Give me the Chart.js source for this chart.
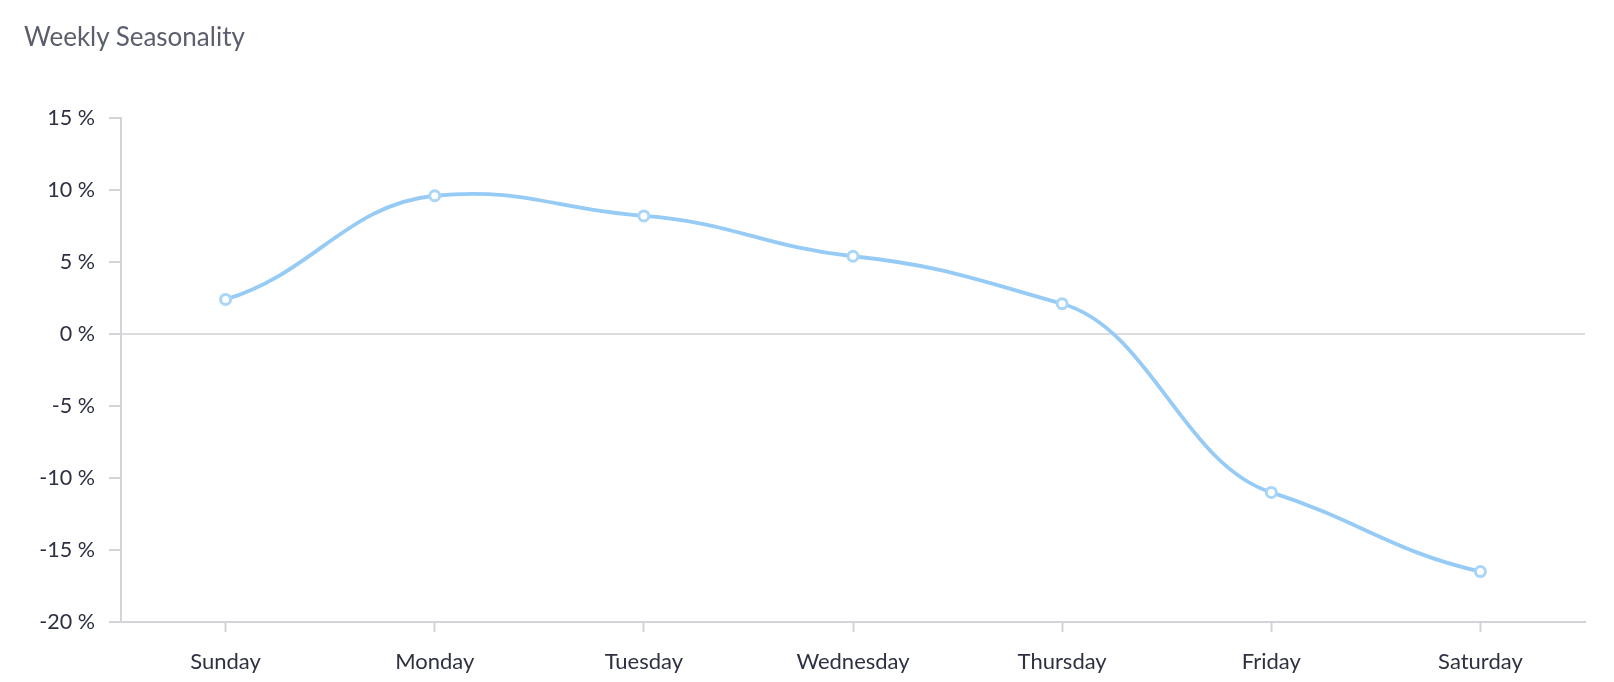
<!DOCTYPE html>
<html>
<head>
<meta charset="utf-8">
<script src="https://cdn.jsdelivr.net/npm/chart.js@4.4.1/dist/chart.umd.min.js"></script>
<style>
  html, body { margin: 0; padding: 0; background: #fff; }
  #wrap { position: relative; width: 1614px; height: 682px; }
  #title {
    position: absolute; left: 24px; top: 20px;
    font-family: Lato, "Noto Sans", sans-serif; font-size: 26px;
    color: #5b5f6d;
  }
</style>
</head>
<body>
<div id="wrap">
  <div id="title">Weekly Seasonality</div>
  <canvas id="seasonChart" width="1614" height="682"></canvas>
</div>
<script>
const days = ["Sunday", "Monday", "Tuesday", "Wednesday", "Thursday", "Friday", "Saturday"];
const seasonality = [2.4, 9.6, 8.2, 5.4, 2.1, -11.0, -16.5];
const yTicks = [15, 10, 5, 0, -5, -10, -15, -20];

const lineColor = "#96cbf5";
const axisColor = "#d3d3d9";

// softer spline: flatter tangents at the points, longer horizontal handles
const softSpline = {
  id: "softSpline",
  beforeDatasetDraw(chart, args) {
    const meta = args.meta;
    const line = meta.dataset;
    line.updateControlPoints(chart.chartArea, meta.iScale.axis);
    const pts = line.points;
    const last = pts.length - 1;
    pts.forEach((p, i) => {
      const prev = pts[Math.max(i - 1, 0)];
      const next = pts[Math.min(i + 1, last)];
      let slope = (next.y - prev.y) / (next.x - prev.x);
      slope *= (i > 0 && i < last) ? 0.5 : 0.6;
      if (i > 0) {
        const dx = (p.x - prev.x) * 0.42;
        p.cp1x = p.x - dx;
        p.cp1y = p.y - slope * dx;
      }
      if (i < last) {
        const dx = (next.x - p.x) * 0.42;
        p.cp2x = p.x + dx;
        p.cp2y = p.y + slope * dx;
      }
    });
  }
};

new Chart(document.getElementById("seasonChart"), {
  type: "line",
  data: {
    labels: days,
    datasets: [{
      data: seasonality,
      borderColor: lineColor,
      borderWidth: 3.8,
      backgroundColor: "#ffffff",
      pointBackgroundColor: "#ffffff",
      pointBorderColor: "#a9d5f7",
      pointBorderWidth: 3,
      pointRadius: 5,
      tension: 0.4,
      fill: false
    }]
  },
  options: {
    responsive: false,
    animation: false,
    layout: { padding: { top: 118, right: 29, left: 0, bottom: 0 } },
    plugins: { legend: { display: false }, tooltip: { enabled: false } },
    scales: {
      x: {
        offset: true,
        border: { color: axisColor, width: 2 },
        grid: { drawOnChartArea: false, tickLength: 10, tickColor: axisColor, tickWidth: 2 },
        ticks: { color: "#2e3142", padding: 17, font: { family: "Lato", size: 22 } },
        afterFit: s => { s.height = 60; }
      },
      y: {
        min: Math.min(...yTicks),
        max: Math.max(...yTicks),
        border: { color: axisColor, width: 2 },
        grid: {
          color: c => c.tick && c.tick.value === 0 ? "#dcdce0" : "rgba(0,0,0,0)",
          lineWidth: 2,
          tickLength: 12,
          tickColor: axisColor,
          tickWidth: 2
        },
        ticks: {
          stepSize: 5,
          color: "#2e3142",
          padding: 14,
          font: { family: "Lato", size: 21.5 },
          callback: v => v + " %"
        },
        afterFit: s => { s.width = 121; }
      }
    }
  },
  plugins: [softSpline]
});
</script>
</body>
</html>
